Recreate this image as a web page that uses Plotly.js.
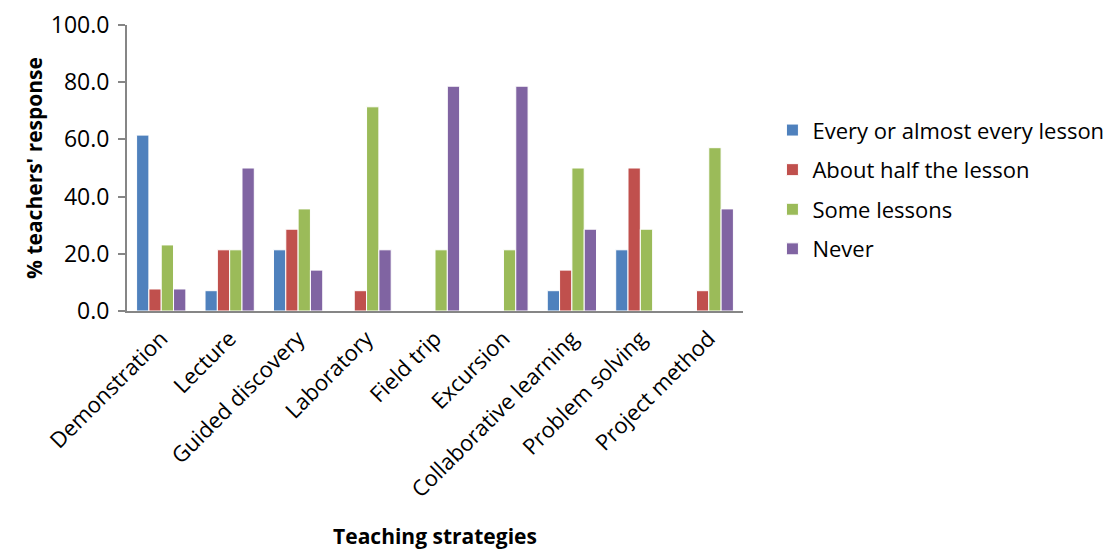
<!DOCTYPE html>
<html><head><meta charset="utf-8">
<script src="https://cdn.plot.ly/plotly-3.0.1.min.js"></script>
<style>body{margin:0;background:#fff}#c{width:1113px;height:550px}</style>
</head><body><div id="c"></div>
<script>
const categories = ["Demonstration","Lecture","Guided discovery","Laboratory","Field trip","Excursion","Collaborative learning","Problem solving","Project method"];
const everyLesson = [61.5, 7.1, 21.4, 0, 0, 0, 7.1, 21.4, 0];
const aboutHalf = [7.7, 21.4, 28.6, 7.1, 0, 0, 14.3, 50.0, 7.1];
const someLessons = [23.1, 21.4, 35.7, 71.4, 21.4, 21.4, 50.0, 28.6, 57.1];
const never = [7.7, 50.0, 14.3, 21.4, 78.6, 78.6, 28.6, 0, 35.7];
const seriesNames = ["Every or almost every lesson","About half the lesson","Some lessons","Never"];
const colors = ["#4F81BD","#C0504D","#9BBB59","#8064A2"];
const values = [everyLesson, aboutHalf, someLessons, never];
const font = "'Open Sans', 'Liberation Sans', sans-serif";
const traces = values.map((v,i)=>({
  type:'bar', x:categories, y:v, name:seriesNames[i], legendgroup:'g'+i,
  marker:{color:colors[i], line:{color:'#ffffff', width:1}}
}));
const layout = {
  width:1113, height:550,
  margin:{l:127, r:370, t:25, b:239},
  paper_bgcolor:'#fff', plot_bgcolor:'#fff',
  font:{family:font, color:'#000', size:21},
  bargap:0.28, bargroupgap:0,
  showlegend:true,
  legend:{xref:'container', yref:'container', x:0.694, y:0.655, xanchor:'left', yanchor:'middle', font:{size:22, family:font}, tracegroupgap:8, traceorder:'grouped', itemwidth:30},
  xaxis:{
    tickangle:-45, showline:true, linecolor:'#868686', linewidth:2, ticks:'',
    tickfont:{size:22, family:font}, automargin:false, ticklabelstandoff:4,
    title:{text:'<b>Teaching strategies</b>', font:{size:21, family:font}, standoff:30}
  },
  yaxis:{
    range:[0,100], dtick:20, tickformat:'.1f', showgrid:false, zeroline:false, automargin:false,
    showline:true, linecolor:'#868686', linewidth:2, ticks:'outside', ticklen:7, tickcolor:'#868686', tickwidth:2,
    tickfont:{size:23, family:font}, ticklabelstandoff:4,
    title:{text:"<b>% teachers' response</b>", font:{size:21, family:font}, standoff:2}
  }
};
Plotly.newPlot('c', traces, layout, {displayModeBar:false});
</script></body></html>
